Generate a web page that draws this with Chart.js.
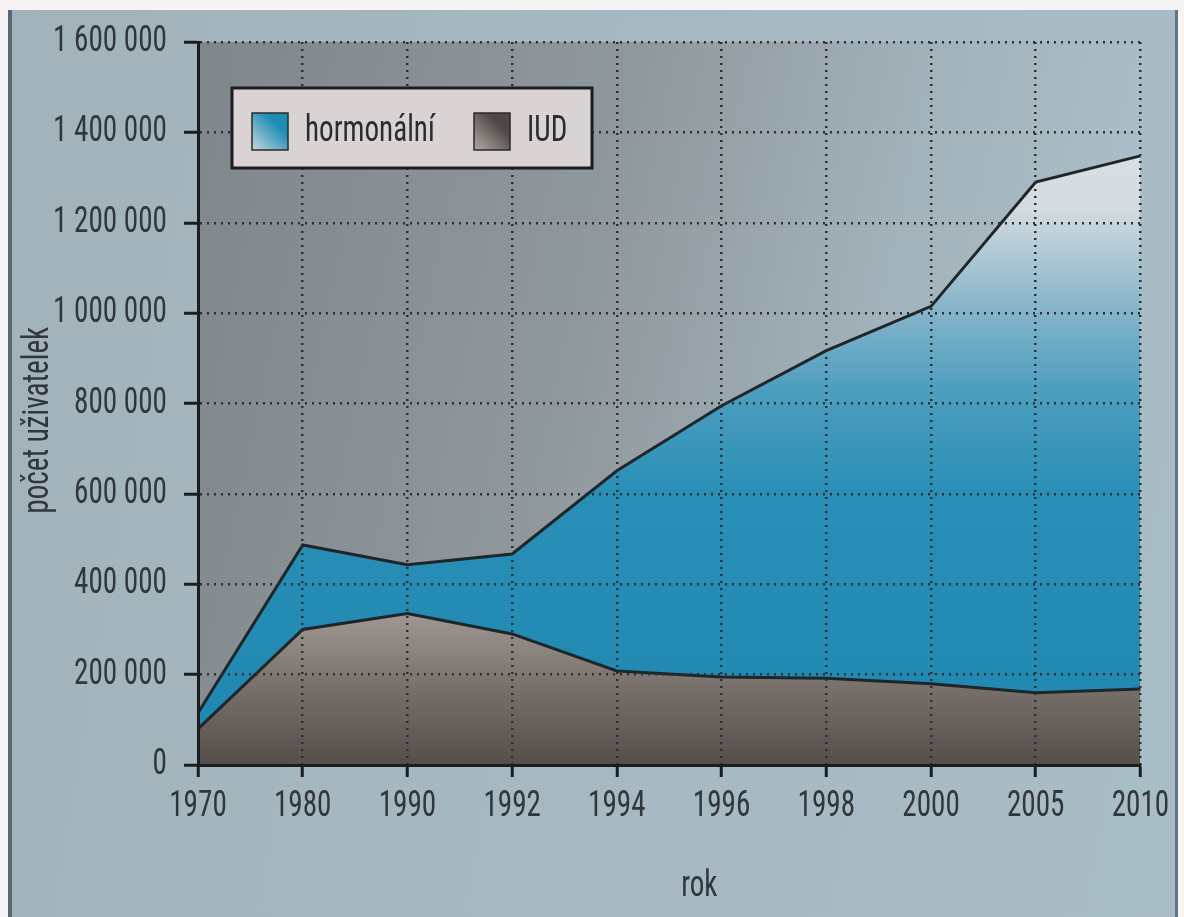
<!DOCTYPE html>
<html lang="cs">
<head>
<meta charset="utf-8">
<title>Počet uživatelek antikoncepce</title>
<script src="https://cdn.jsdelivr.net/npm/chart.js@4.4.1/dist/chart.umd.min.js"></script>
<style>
  html, body { margin: 0; padding: 0; background: #f6f4f4; }
  body { width: 1184px; height: 917px; position: relative; overflow: hidden; }
  #page {
    position: absolute; left: 8px; top: 10px; width: 1170px; height: 907px;
    background: linear-gradient(100deg, #a1b2ba 0%, #a6b8c1 50%, #a9bdc7 100%);
    border-left: 4px solid #59686f; border-right: 3px solid #637480;
    box-sizing: border-box;
  }
  #wrap { position: absolute; left: 0; top: 0; width: 1184px; height: 917px; }
</style>
</head>
<body>
<div id="page"></div>
<div id="wrap"><canvas id="chart" width="1184" height="917"></canvas></div>
<script>
// Roky (kategorie osy x)
const years = ['1970', '1980', '1990', '1992', '1994', '1996', '1998', '2000', '2005', '2010'];
// Počet uživatelek nitroděložního tělíska (spodní vrstva)
const iudUsers = [80000, 300000, 335000, 290000, 208000, 195000, 192000, 180000, 160000, 168000];
// Počet uživatelek hormonální antikoncepce (vrstva nad IUD)
const hormonalUsers = [35000, 187000, 108000, 177000, 443000, 600000, 725000, 835000, 1130000, 1180000];
// Popisky osy y
const yTickLabels = ['0', '200 000', '400 000', '600 000', '800 000', '1 000 000', '1 200 000', '1 400 000', '1 600 000'];

// Výběr úzkého písma, které je v systému k dispozici
const probe = document.createElement('canvas').getContext('2d');
function hasFont(name) {
  const s = '1 600 000 hormonální IUD';
  return ['monospace', 'serif'].every(fb => {
    probe.font = '60px ' + fb;
    const a = probe.measureText(s).width;
    probe.font = '60px "' + name + '", ' + fb;
    return probe.measureText(s).width !== a;
  });
}
const candidates = ['Liberation Sans Narrow', 'Roboto Condensed', 'Open Sans Condensed', 'DejaVu Sans Condensed', 'Roboto'];
const FAMILY = candidates.find(hasFont) || 'sans-serif';
const FONT = '"' + FAMILY + '", sans-serif';
const SIZE = 36;
// horizontální zúžení písma tak, aby "1 600 000" zabíralo zhruba 114 px
probe.font = SIZE + 'px ' + FONT;
const SQUEEZE = Math.min(1, 114 / probe.measureText('1 600 000').width);
const TEXT = '#30373a';

// Kreslicí kontext s horizontálně zúženým textem (kondenzovaný řez)
const canvas = document.getElementById('chart');
const c2d = canvas.getContext('2d');
const nativeFillText = c2d.fillText.bind(c2d);
c2d.fillText = function (text, x, y, maxWidth) {
  this.save();
  this.translate(x, y);
  this.scale(SQUEEZE, 1);
  nativeFillText(text, 0, 0);
  this.restore();
};

function vGradient(chart, stops) {
  const area = chart.chartArea;
  if (!area) return null;
  const g = chart.ctx.createLinearGradient(0, area.bottom, 0, area.top);
  stops.forEach(s => g.addColorStop(s[0], s[1]));
  return g;
}

const iudStops = [[0, '#554e4a'], [0.1, '#756d68'], [0.22, '#a39b96'], [0.4, '#b3aca8'], [1, '#b3aca8']];
const hormStops = [[0, '#1d87b1'], [0.38, '#2a8fb7'], [0.52, '#4d9ebf'], [0.64, '#8ab6ca'], [0.77, '#d3dbdf'], [1, '#e4e6e7']];

// Pozadí kreslicí plochy
const plotBackground = {
  id: 'plotBackground',
  beforeDraw(chart) {
    const {ctx, chartArea: a} = chart;
    const g = ctx.createLinearGradient(a.left, a.top, a.right, a.top + 200);
    g.addColorStop(0, '#80878b');
    g.addColorStop(0.45, '#8f989d');
    g.addColorStop(0.75, '#a2b2ba');
    g.addColorStop(1, '#abbec7');
    ctx.save();
    ctx.fillStyle = g;
    ctx.fillRect(a.left, a.top, a.right - a.left, a.bottom - a.top);
    ctx.restore();
  }
};

// Legenda uvnitř grafu
const boxLegend = {
  id: 'boxLegend',
  afterDraw(chart) {
    const {ctx} = chart;
    const ds = chart.data.datasets;
    const x = 232, y = 88, w = 360, h = 80;
    ctx.save();
    ctx.fillStyle = '#d9d4d3';
    ctx.fillRect(x, y, w, h);
    ctx.lineWidth = 3;
    ctx.strokeStyle = '#1b1d1e';
    ctx.strokeRect(x, y, w, h);
    const items = [
      {label: ds[1].label, sx: 252, tx: 305, c: ['#c9d6dc', '#1d8db6']},
      {label: ds[0].label, sx: 474, tx: 527, c: ['#b0a9a5', '#4f4844']}
    ];
    items.forEach(it => {
      const g = ctx.createLinearGradient(it.sx, 150, it.sx + 36, 113);
      g.addColorStop(0, it.c[0]);
      g.addColorStop(0.7, it.c[1]);
      g.addColorStop(1, it.c[1]);
      ctx.fillStyle = g;
      ctx.fillRect(it.sx, 113, 36, 37);
      ctx.lineWidth = 1.5;
      ctx.strokeStyle = '#2a2a2a';
      ctx.strokeRect(it.sx, 113, 36, 37);
      ctx.fillStyle = '#2a2c2d';
      ctx.font = SIZE + 'px ' + FONT;
      ctx.textBaseline = 'middle';
      ctx.textAlign = 'left';
      ctx.fillText(it.label, it.tx, 132);
    });
    ctx.restore();
  }
};

new Chart(canvas, {
  type: 'line',
  data: {
    labels: years,
    datasets: [
      {
        label: 'IUD',
        data: iudUsers,
        fill: 'origin',
        borderColor: '#1f2629',
        borderWidth: 3,
        pointRadius: 0,
        tension: 0,
        backgroundColor: ctx => vGradient(ctx.chart, iudStops)
      },
      {
        label: 'hormonální',
        data: hormonalUsers,
        fill: '-1',
        borderColor: '#1f2629',
        borderWidth: 3,
        pointRadius: 0,
        tension: 0,
        backgroundColor: ctx => vGradient(ctx.chart, hormStops)
      }
    ]
  },
  options: {
    responsive: false,
    animation: false,
    layout: { padding: { top: 42, right: 41, bottom: 0, left: 0 } },
    plugins: { legend: { display: false }, tooltip: { enabled: false } },
    scales: {
      x: {
        offset: false,
        grid: {
          z: 1, color: '#2a3033', lineWidth: 2.5,
          tickLength: 12, tickColor: '#1b1d1e', tickWidth: 3, tickBorderDash: []
        },
        border: { display: true, color: '#1b1d1e', width: 3, dash: [2, 5], z: 2 },
        ticks: { color: TEXT, font: { family: FONT, size: SIZE }, padding: 8, maxRotation: 0, autoSkip: false },
        // mezery na začátku posunují titulek vpravo od středu osy
        title: { display: true, text: '         rok', color: TEXT, font: { family: FONT, size: SIZE }, padding: { top: 0, bottom: 8 } },
        afterFit: s => { s.height = 152; }
      },
      y: {
        stacked: true,
        min: 0, max: 1600000,
        grid: {
          z: 1, color: '#2a3033', lineWidth: 2.5,
          tickLength: 14, tickColor: '#1b1d1e', tickWidth: 3, tickBorderDash: []
        },
        border: { display: true, color: '#1b1d1e', width: 3, dash: [2, 5], z: 2 },
        ticks: {
          stepSize: 200000, color: TEXT, font: { family: FONT, size: SIZE }, padding: 17,
          callback: (v, i) => yTickLabels[i]
        },
        // mezery na konci posunují titulek níže, pod popisek 1 000 000
        title: { display: true, text: 'počet uživatelek     ', color: TEXT, font: { family: FONT, size: SIZE }, padding: { top: 17, bottom: 0 } },
        afterFit: s => { s.width = 198; }
      }
    }
  },
  plugins: [plotBackground, boxLegend]
});
</script>
</body>
</html>
